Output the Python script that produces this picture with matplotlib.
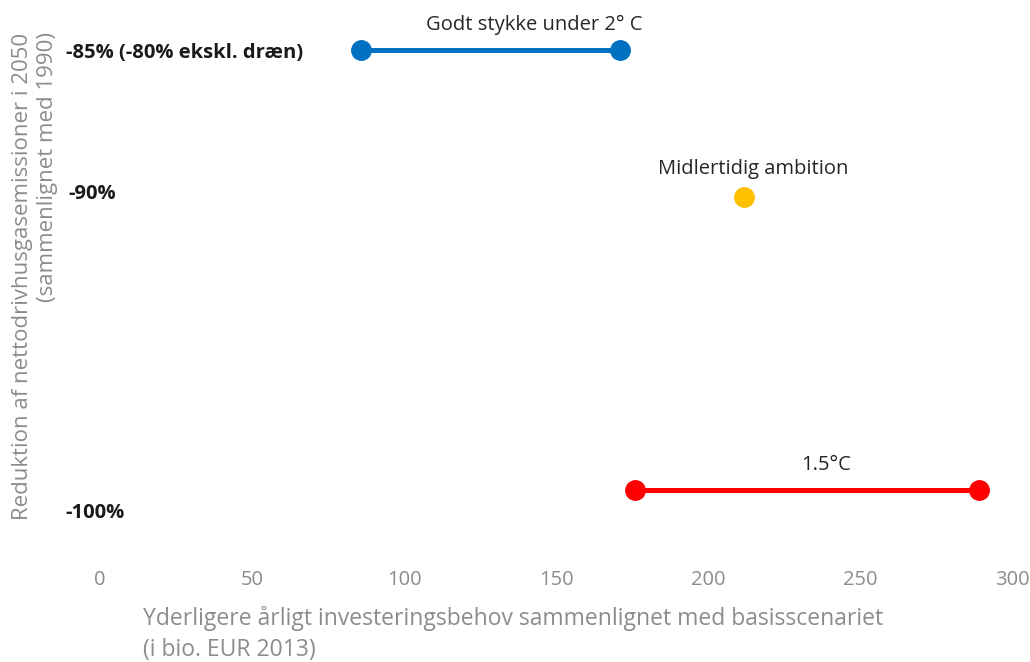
import matplotlib.pyplot as plt
from matplotlib.transforms import blended_transform_factory, offset_copy

# data
scenarios = ["Godt stykke under 2° C", "Midlertidig ambition", "1.5°C"]
x_low = [86, 212, 176]
x_high = [171, 212, 289]
reduction = [-85, -90, -100]
colors = ["#0070C0", "#FFC000", "#FF0000"]
ylabels = ["-85% (-80% ekskl. dræn)", "-90%", "-100%"]
xticks = [0, 50, 100, 150, 200, 250, 300]

plt.rcParams["font.family"] = ["Open Sans", "DejaVu Sans"]
gray = "#8c8c8c"

fig = plt.figure(figsize=(10.3, 6.62), dpi=100)
ax = fig.add_axes([100 / 1030, 113 / 662, 912 / 1030, 543 / 662])

for lo, hi, y, c in zip(x_low, x_high, reduction, colors):
    if lo == hi:
        ax.plot([lo], [y], "o", color=c, markersize=14, zorder=3)
    else:
        ax.plot([lo, hi], [y, y], "-o", color=c, lw=3.6, markersize=14, zorder=3)

# scenario labels (text anchor positions)
label_pos = [(143, -84.15), (215, -89.05), (239, -99.15)]
for name, (lx, ly) in zip(scenarios, label_pos):
    ax.text(lx, ly, name, ha="center", va="center", fontsize=14.5, color="#262626")

# y labels as bold text left of the plot
trans = blended_transform_factory(fig.transFigure, ax.transData)
label_shift = [-3, 3, -23]
label_x = [66, 68, 65]
for lab, y, s, lx in zip(ylabels, reduction, label_shift, label_x):
    t = offset_copy(trans, fig=fig, y=s * 0.72, units="points")
    ax.text(lx / 1030, y, lab, transform=t, ha="left", va="center",
            fontsize=14.5, fontweight="bold", color="#1a1a1a")

ax.set_xlim(0, 300)
ax.set_ylim(-102, -83.5)
ax.set_xticks(xticks)
ax.set_xticklabels([str(v) for v in xticks], color=gray, fontsize=14.5)
ax.set_yticks([])
ax.tick_params(axis="x", length=0, pad=15)
for sp in ax.spines.values():
    sp.set_visible(False)

fig.text(143 / 1030, 1 - 634 / 662,
         "Yderligere årligt investeringsbehov sammenlignet med basisscenariet\n(i bio. EUR 2013)",
         ha="left", va="center", color=gray, fontsize=16.5, linespacing=1.35)
fig.text(35 / 1030, 1 - 276 / 662,
         "Reduktion af nettodrivhusgasemissioner i 2050\n(sammenlignet med 1990)",
         rotation=90, ha="center", va="center", multialignment="right",
         color=gray, fontsize=16, linespacing=1.3)

fig.savefig("out.png", dpi=100)
